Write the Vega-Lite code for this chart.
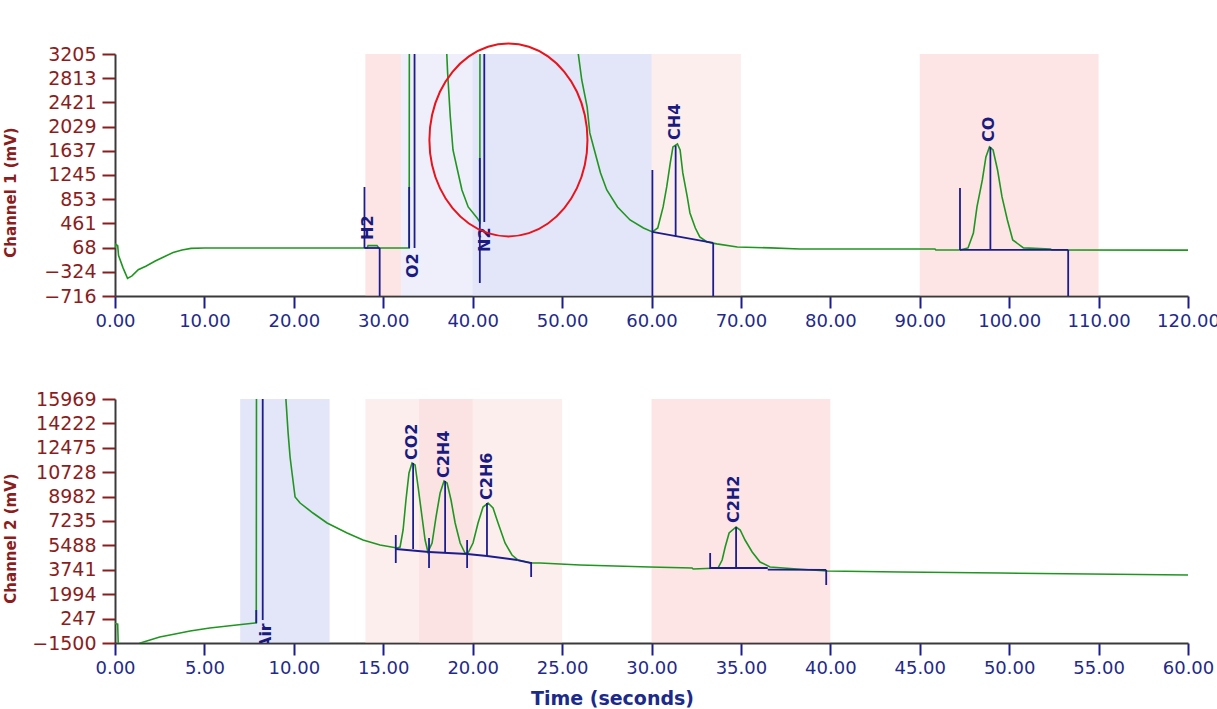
{
  "$schema": "https://vega.github.io/schema/vega-lite/v6.json",
  "padding": {"left": 2, "top": 39, "right": 5, "bottom": 0},
  "spacing": 60,
  "config": {
    "view": {"stroke": null},
    "font": "DejaVu Sans",
    "axis": {"grid": false, "domainColor": "#3a3a3a", "domainWidth": 2, "labelFont": "DejaVu Sans", "tickWidth": 2, "tickSize": 12, "labelOverlap": false, "labelFlush": false, "labelBound": false}
  },
  "datasets": {
    "trace1": [
      {"t":0,"v":60},{"t":0.1,"v":120},{"t":0.3,"v":100},{"t":0.4,"v":-60},{"t":0.9,"v":-260},{"t":1.4,"v":-430},{"t":1.9,"v":-390},{"t":2.6,"v":-290},{"t":3.5,"v":-230},{"t":4.5,"v":-150},{"t":5.5,"v":-80},{"t":6.5,"v":-10},{"t":7.5,"v":30},{"t":8.5,"v":55},{"t":10,"v":62},{"t":28.2,"v":62},{"t":28.3,"v":100},{"t":29.3,"v":100},{"t":29.5,"v":62},{"t":32.9,"v":62},{"t":32.95,"v":9000},{"t":36.9,"v":9000},{"t":37.1,"v":3221},{"t":37.2,"v":2897},{"t":37.5,"v":2184},{"t":37.8,"v":1650},{"t":38.3,"v":1326},{"t":38.8,"v":1002},{"t":39.5,"v":727},{"t":40.5,"v":548},{"t":40.8,"v":484},{"t":40.85,"v":9000},{"t":51.7,"v":9000},{"t":51.8,"v":3221},{"t":52.2,"v":2784},{"t":52.8,"v":2347},{"t":53.1,"v":1926},{"t":53.7,"v":1602},{"t":54.3,"v":1278},{"t":55.0,"v":1002},{"t":56.2,"v":727},{"t":57.6,"v":516},{"t":59.1,"v":387},{"t":60.1,"v":322},{"t":60.7,"v":386},{"t":61.3,"v":727},{"t":61.7,"v":1051},{"t":62.1,"v":1440},{"t":62.4,"v":1699},{"t":62.9,"v":1747},{"t":63.2,"v":1650},{"t":63.5,"v":1278},{"t":64.0,"v":889},{"t":64.3,"v":630},{"t":64.9,"v":386},{"t":65.4,"v":241},{"t":66.2,"v":160},{"t":67.3,"v":128},{"t":69.6,"v":79},{"t":73.3,"v":63},{"t":76.6,"v":46},{"t":91.7,"v":46},{"t":91.8,"v":30},{"t":94.5,"v":30},{"t":95.4,"v":63},{"t":96.0,"v":305},{"t":96.4,"v":727},{"t":97.0,"v":1164},{"t":97.4,"v":1537},{"t":97.8,"v":1699},{"t":98.2,"v":1650},{"t":98.7,"v":1326},{"t":99.2,"v":889},{"t":99.8,"v":516},{"t":100.4,"v":192},{"t":101.6,"v":63},{"t":104.6,"v":46},{"t":104.8,"v":30},{"t":120,"v":28}
    ],
    "marks1": [
      {"t":27.9,"v":62,"t2":27.9,"v2":1050},
      {"t":27.9,"v":62,"t2":29.6,"v2":62},
      {"t":29.6,"v":62,"t2":29.6,"v2":-716},
      {"t":32.9,"v":62,"t2":32.9,"v2":1050},
      {"t":33.5,"v":62,"t2":33.5,"v2":9000},
      {"t":40.8,"v":-505,"t2":40.8,"v2":1520},
      {"t":41.3,"v":484,"t2":41.3,"v2":9000},
      {"t":60.1,"v":1326,"t2":60.1,"v2":-716},
      {"t":60.1,"v":322,"t2":66.9,"v2":143},
      {"t":62.7,"v":1720,"t2":62.7,"v2":250},
      {"t":66.9,"v":143,"t2":66.9,"v2":-716},
      {"t":94.5,"v":30,"t2":94.5,"v2":1034},
      {"t":94.5,"v":30,"t2":106.6,"v2":30},
      {"t":97.9,"v":1699,"t2":97.9,"v2":30},
      {"t":106.6,"v":30,"t2":106.6,"v2":-716}
    ],
    "labels1": [
      {"t":28.3,"v":192,"name":"H2"},
      {"t":33.3,"v":-424,"name":"O2"},
      {"t":41.4,"v":-3,"name":"N2"},
      {"t":62.6,"v":1812,"name":"CH4"},
      {"t":97.8,"v":1780,"name":"CO"}
    ],
    "bands1": [
      {"t":28,"t2":32,"kind":"pinkStrong"},
      {"t":32,"t2":60,"kind":"blue"},
      {"t":40,"t2":60,"kind":"blue"},
      {"t":60,"t2":70,"kind":"pink"},
      {"t":90,"t2":110,"kind":"pinkStrong"}
    ],
    "ellipse": [
      {"t":52.84,"v":1812},{"t":52.54,"v":2217},{"t":51.66,"v":2594},{"t":50.25,"v":2917},{"t":48.42,"v":3166},{"t":46.29,"v":3322},{"t":44,"v":3375},{"t":41.71,"v":3322},{"t":39.58,"v":3166},{"t":37.75,"v":2917},{"t":36.34,"v":2594},{"t":35.46,"v":2217},{"t":35.16,"v":1812},{"t":35.46,"v":1407},{"t":36.34,"v":1031},{"t":37.75,"v":707},{"t":39.58,"v":458},{"t":41.71,"v":302},{"t":44,"v":249},{"t":46.29,"v":302},{"t":48.42,"v":458},{"t":50.25,"v":707},{"t":51.66,"v":1031},{"t":52.54,"v":1407}
    ],
    "trace2": [
      {"t":0,"v":-100},{"t":0.15,"v":-150},{"t":0.2,"v":-2500},{"t":1.35,"v":-2500},{"t":1.4,"v":-1501},{"t":1.96,"v":-1287},{"t":2.5,"v":-1072},{"t":3.36,"v":-857},{"t":4.2,"v":-642},{"t":5.3,"v":-428},{"t":6.8,"v":-213},{"t":7.83,"v":-70},{"t":7.9,"v":-70},{"t":7.92,"v":30000},{"t":9.5,"v":30000},{"t":9.56,"v":15897},{"t":9.68,"v":13535},{"t":9.79,"v":11816},{"t":9.9,"v":10671},{"t":10.07,"v":8952},{"t":10.35,"v":8522},{"t":11.07,"v":7806},{"t":11.86,"v":7091},{"t":12.98,"v":6375},{"t":13.87,"v":5873},{"t":14.82,"v":5516},{"t":15.77,"v":5301},{"t":15.94,"v":5372},{"t":16.11,"v":6590},{"t":16.27,"v":8738},{"t":16.44,"v":10671},{"t":16.61,"v":11387},{"t":16.78,"v":11244},{"t":16.95,"v":9668},{"t":17.17,"v":7520},{"t":17.34,"v":5873},{"t":17.5,"v":5014},{"t":17.73,"v":5659},{"t":17.95,"v":7520},{"t":18.18,"v":9238},{"t":18.4,"v":10098},{"t":18.57,"v":9955},{"t":18.79,"v":8738},{"t":19.02,"v":7091},{"t":19.3,"v":5659},{"t":19.57,"v":4943},{"t":19.74,"v":4943},{"t":20.02,"v":5659},{"t":20.3,"v":7091},{"t":20.58,"v":8236},{"t":20.86,"v":8523},{"t":21.14,"v":8165},{"t":21.42,"v":7091},{"t":21.81,"v":5659},{"t":22.2,"v":4800},{"t":22.54,"v":4442},{"t":23.32,"v":4227},{"t":23.77,"v":4227},{"t":26.0,"v":4084},{"t":29.9,"v":3940},{"t":32.27,"v":3869},{"t":32.33,"v":3797},{"t":33.72,"v":3869},{"t":33.95,"v":4442},{"t":34.12,"v":5372},{"t":34.34,"v":6375},{"t":34.73,"v":6804},{"t":34.96,"v":6590},{"t":35.23,"v":5873},{"t":35.63,"v":5014},{"t":36.07,"v":4299},{"t":36.63,"v":3941},{"t":38.14,"v":3797},{"t":39.82,"v":3654},{"t":43.9,"v":3582},{"t":49.5,"v":3511},{"t":60,"v":3368}
    ],
    "marks2": [
      {"t":7.9,"v":-70,"t2":7.9,"v2":859},
      {"t":8.26,"v":145,"t2":8.26,"v2":30000},
      {"t":15.7,"v":4227,"t2":15.7,"v2":6232},
      {"t":16.67,"v":11387,"t2":16.67,"v2":5229},
      {"t":17.56,"v":6017,"t2":17.56,"v2":3869},
      {"t":18.46,"v":10098,"t2":18.46,"v2":5014},
      {"t":19.69,"v":5873,"t2":19.69,"v2":3869},
      {"t":20.8,"v":8523,"t2":20.8,"v2":4729},
      {"t":23.27,"v":4299,"t2":23.27,"v2":3224},
      {"t":15.7,"v":5229,"t2":17.56,"v2":5014},
      {"t":17.56,"v":5014,"t2":19.69,"v2":4871},
      {"t":19.69,"v":4871,"t2":20.8,"v2":4729},
      {"t":20.8,"v":4729,"t2":22.5,"v2":4442},
      {"t":22.5,"v":4442,"t2":23.27,"v2":4227},
      {"t":33.28,"v":4943,"t2":33.28,"v2":3797},
      {"t":34.73,"v":6804,"t2":34.73,"v2":3869},
      {"t":33.28,"v":3869,"t2":36.5,"v2":3869},
      {"t":36.5,"v":3760,"t2":39.77,"v2":3730},
      {"t":39.77,"v":3730,"t2":39.77,"v2":2652}
    ],
    "labels2": [
      {"t":8.45,"v":-1930,"name":"Air"},
      {"t":16.6,"v":11601,"name":"CO2"},
      {"t":18.4,"v":10313,"name":"C2H4"},
      {"t":20.8,"v":8738,"name":"C2H6"},
      {"t":34.6,"v":7091,"name":"C2H2"}
    ],
    "bands2": [
      {"t":7,"t2":12,"kind":"blueStrong"},
      {"t":14,"t2":20,"kind":"pink"},
      {"t":17,"t2":25,"kind":"pink"},
      {"t":30,"t2":40,"kind":"pinkStrong"}
    ]
  },
  "vconcat": [
    {
      "width": 1073,
      "height": 242,
      "layer": [
        {
          "data": {"name": "bands1"},
          "mark": {"type": "rect", "opacity": 0.36},
          "encoding": {
            "x": {"field": "t", "type": "quantitative", "scale": {"domain": [0, 120], "nice": false, "zero": false},
              "axis": {"title": null, "values": [0,10,20,30,40,50,60,70,80,90,100,110,120], "tickCount": 30, "format": ".2f", "labelFontSize": 18, "labelColor": "#1f2a8a", "tickColor": "#1c1c8e", "labelPadding": 4, "labelOverlap": false, "labelFlush": false}},
            "x2": {"field": "t2"},
            "color": {"field": "kind", "type": "nominal", "legend": null,
              "scale": {"domain": ["pink", "pinkStrong", "blue", "blueStrong"], "range": ["#f9d0d0", "#f9b7b7", "#d0d3f4", "#b1b7ec"]}}
          }
        },
        {
          "data": {"name": "trace1"},
          "mark": {"type": "line", "color": "#1f961f", "strokeWidth": 1.6, "clip": true},
          "encoding": {
            "x": {"field": "t", "type": "quantitative"},
            "y": {"field": "v", "type": "quantitative", "scale": {"domain": [-716, 3205], "nice": false, "zero": false},
              "axis": {"title": "Channel 1 (mV)", "values": [-716,-324,68,461,853,1245,1637,2029,2421,2813,3205], "tickCount": 30, "format": "d", "labelFontSize": 19, "labelColor": "#8b1d1d", "tickColor": "#8b1d1d", "labelPadding": 6, "tickSize": 13, "labelOverlap": false, "labelFlush": false,
                "titleColor": "#8b1d1d", "titleFontSize": 15, "titleFontWeight": "bold", "titleX": -97, "titleY": 138}},
            "order": {"value": null}
          }
        },
        {
          "data": {"name": "marks1"},
          "mark": {"type": "rule", "color": "#1c1c8e", "strokeWidth": 1.8, "clip": true},
          "encoding": {
            "x": {"field": "t", "type": "quantitative"},
            "x2": {"field": "t2"},
            "y": {"field": "v", "type": "quantitative"},
            "y2": {"field": "v2"}
          }
        },
        {
          "data": {"name": "labels1"},
          "mark": {"type": "text", "angle": 270, "align": "left", "baseline": "middle", "font": "DejaVu Sans", "fontWeight": "bold", "fontSize": 16, "color": "#1a1a80", "clip": true},
          "encoding": {
            "x": {"field": "t", "type": "quantitative"},
            "y": {"field": "v", "type": "quantitative"},
            "text": {"field": "name"}
          }
        },
        {
          "data": {"name": "ellipse"},
          "mark": {"type": "line", "color": "#e8141c", "strokeWidth": 2, "interpolate": "cardinal-closed", "clip": false},
          "encoding": {
            "x": {"field": "t", "type": "quantitative"},
            "y": {"field": "v", "type": "quantitative"},
            "order": {"value": null}
          }
        }
      ]
    },
    {
      "width": 1073,
      "height": 244,
      "layer": [
        {
          "data": {"name": "bands2"},
          "mark": {"type": "rect", "opacity": 0.36},
          "encoding": {
            "x": {"field": "t", "type": "quantitative", "scale": {"domain": [0, 60], "nice": false, "zero": false},
              "axis": {"title": "Time (seconds)", "values": [0,5,10,15,20,25,30,35,40,45,50,55,60], "tickCount": 30, "format": ".2f", "labelFontSize": 18, "labelColor": "#1f2a8a", "tickColor": "#1c1c8e", "labelPadding": 4, "labelOverlap": false, "labelFlush": false,
                "titleColor": "#1c2a8a", "titleFontSize": 19, "titleFontWeight": "bold", "titleX": 497, "titleY": 61, "titleBaseline": "alphabetic"}},
            "x2": {"field": "t2"},
            "color": {"field": "kind", "type": "nominal", "legend": null,
              "scale": {"domain": ["pink", "pinkStrong", "blue", "blueStrong"], "range": ["#f9d0d0", "#f9b7b7", "#d0d3f4", "#b1b7ec"]}}
          }
        },
        {
          "data": {"name": "trace2"},
          "mark": {"type": "line", "color": "#1f961f", "strokeWidth": 1.6, "clip": true},
          "encoding": {
            "x": {"field": "t", "type": "quantitative"},
            "y": {"field": "v", "type": "quantitative", "scale": {"domain": [-1500, 15969], "nice": false, "zero": false},
              "axis": {"title": "Channel 2 (mV)", "values": [-1500,247,1994,3741,5488,7235,8982,10728,12475,14222,15969], "tickCount": 30, "format": "d", "labelFontSize": 19, "labelColor": "#8b1d1d", "tickColor": "#8b1d1d", "labelPadding": 6, "tickSize": 13, "labelOverlap": false, "labelFlush": false,
                "titleColor": "#8b1d1d", "titleFontSize": 15, "titleFontWeight": "bold", "titleX": -97, "titleY": 139}},
            "order": {"value": null}
          }
        },
        {
          "data": {"name": "marks2"},
          "mark": {"type": "rule", "color": "#1c1c8e", "strokeWidth": 1.8, "clip": true},
          "encoding": {
            "x": {"field": "t", "type": "quantitative"},
            "x2": {"field": "t2"},
            "y": {"field": "v", "type": "quantitative"},
            "y2": {"field": "v2"}
          }
        },
        {
          "data": {"name": "labels2"},
          "mark": {"type": "text", "angle": 270, "align": "left", "baseline": "middle", "font": "DejaVu Sans", "fontWeight": "bold", "fontSize": 16, "color": "#1a1a80", "clip": true},
          "encoding": {
            "x": {"field": "t", "type": "quantitative"},
            "y": {"field": "v", "type": "quantitative"},
            "text": {"field": "name"}
          }
        }
      ]
    }
  ]
}
